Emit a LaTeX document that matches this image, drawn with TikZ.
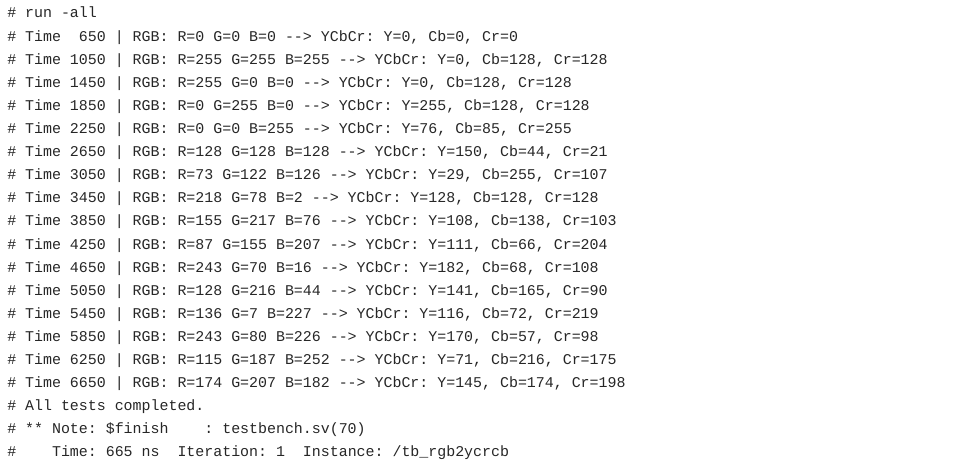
\documentclass[tikz,border=0pt]{standalone}
\usepackage{fontspec}
\setmonofont{Liberation Mono}
\usepackage{tikz}

\begin{document}
\begin{tikzpicture}[x=0.75pt,y=-0.75pt]

        % Define styles
        \tikzstyle{logline} = [anchor=base west, inner sep=0pt, font=\ttfamily\fontsize{11.2}{13}\selectfont, text=black!85]

        \useasboundingbox (0,0) rectangle (975,467);

        % Console lines
        \node (run)  [logline] at (7,18) {\# run -all};
        \node (t01) [logline] at (7,41.1) {\# Time\ \ 650 | RGB: R=0 G=0 B=0 --> YCbCr: Y=0, Cb=0, Cr=0};
        \node (t02) [logline] at (7,64.2) {\# Time 1050 | RGB: R=255 G=255 B=255 --> YCbCr: Y=0, Cb=128, Cr=128};
        \node (t03) [logline] at (7,87.3) {\# Time 1450 | RGB: R=255 G=0 B=0 --> YCbCr: Y=0, Cb=128, Cr=128};
        \node (t04) [logline] at (7,110.4) {\# Time 1850 | RGB: R=0 G=255 B=0 --> YCbCr: Y=255, Cb=128, Cr=128};
        \node (t05) [logline] at (7,133.5) {\# Time 2250 | RGB: R=0 G=0 B=255 --> YCbCr: Y=76, Cb=85, Cr=255};
        \node (t06) [logline] at (7,156.6) {\# Time 2650 | RGB: R=128 G=128 B=128 --> YCbCr: Y=150, Cb=44, Cr=21};
        \node (t07) [logline] at (7,179.7) {\# Time 3050 | RGB: R=73 G=122 B=126 --> YCbCr: Y=29, Cb=255, Cr=107};
        \node (t08) [logline] at (7,202.8) {\# Time 3450 | RGB: R=218 G=78 B=2 --> YCbCr: Y=128, Cb=128, Cr=128};
        \node (t09) [logline] at (7,225.9) {\# Time 3850 | RGB: R=155 G=217 B=76 --> YCbCr: Y=108, Cb=138, Cr=103};
        \node (t10) [logline] at (7,249.0) {\# Time 4250 | RGB: R=87 G=155 B=207 --> YCbCr: Y=111, Cb=66, Cr=204};
        \node (t11) [logline] at (7,272.1) {\# Time 4650 | RGB: R=243 G=70 B=16 --> YCbCr: Y=182, Cb=68, Cr=108};
        \node (t12) [logline] at (7,295.2) {\# Time 5050 | RGB: R=128 G=216 B=44 --> YCbCr: Y=141, Cb=165, Cr=90};
        \node (t13) [logline] at (7,318.3) {\# Time 5450 | RGB: R=136 G=7 B=227 --> YCbCr: Y=116, Cb=72, Cr=219};
        \node (t14) [logline] at (7,341.4) {\# Time 5850 | RGB: R=243 G=80 B=226 --> YCbCr: Y=170, Cb=57, Cr=98};
        \node (t15) [logline] at (7,364.5) {\# Time 6250 | RGB: R=115 G=187 B=252 --> YCbCr: Y=71, Cb=216, Cr=175};
        \node (t16) [logline] at (7,387.6) {\# Time 6650 | RGB: R=174 G=207 B=182 --> YCbCr: Y=145, Cb=174, Cr=198};
        \node (done) [logline] at (7,410.7) {\# All tests completed.};
        \node (note) [logline] at (7,433.8) {\# ** Note: \$finish\ \ \ \ : testbench.sv(70)};
        \node (inst) [logline] at (7,456.9) {\#\ \ \ \ Time: 665 ns\ \ Iteration: 1\ \ Instance: /tb\_rgb2ycrcb};

      \end{tikzpicture}
\end{document}
